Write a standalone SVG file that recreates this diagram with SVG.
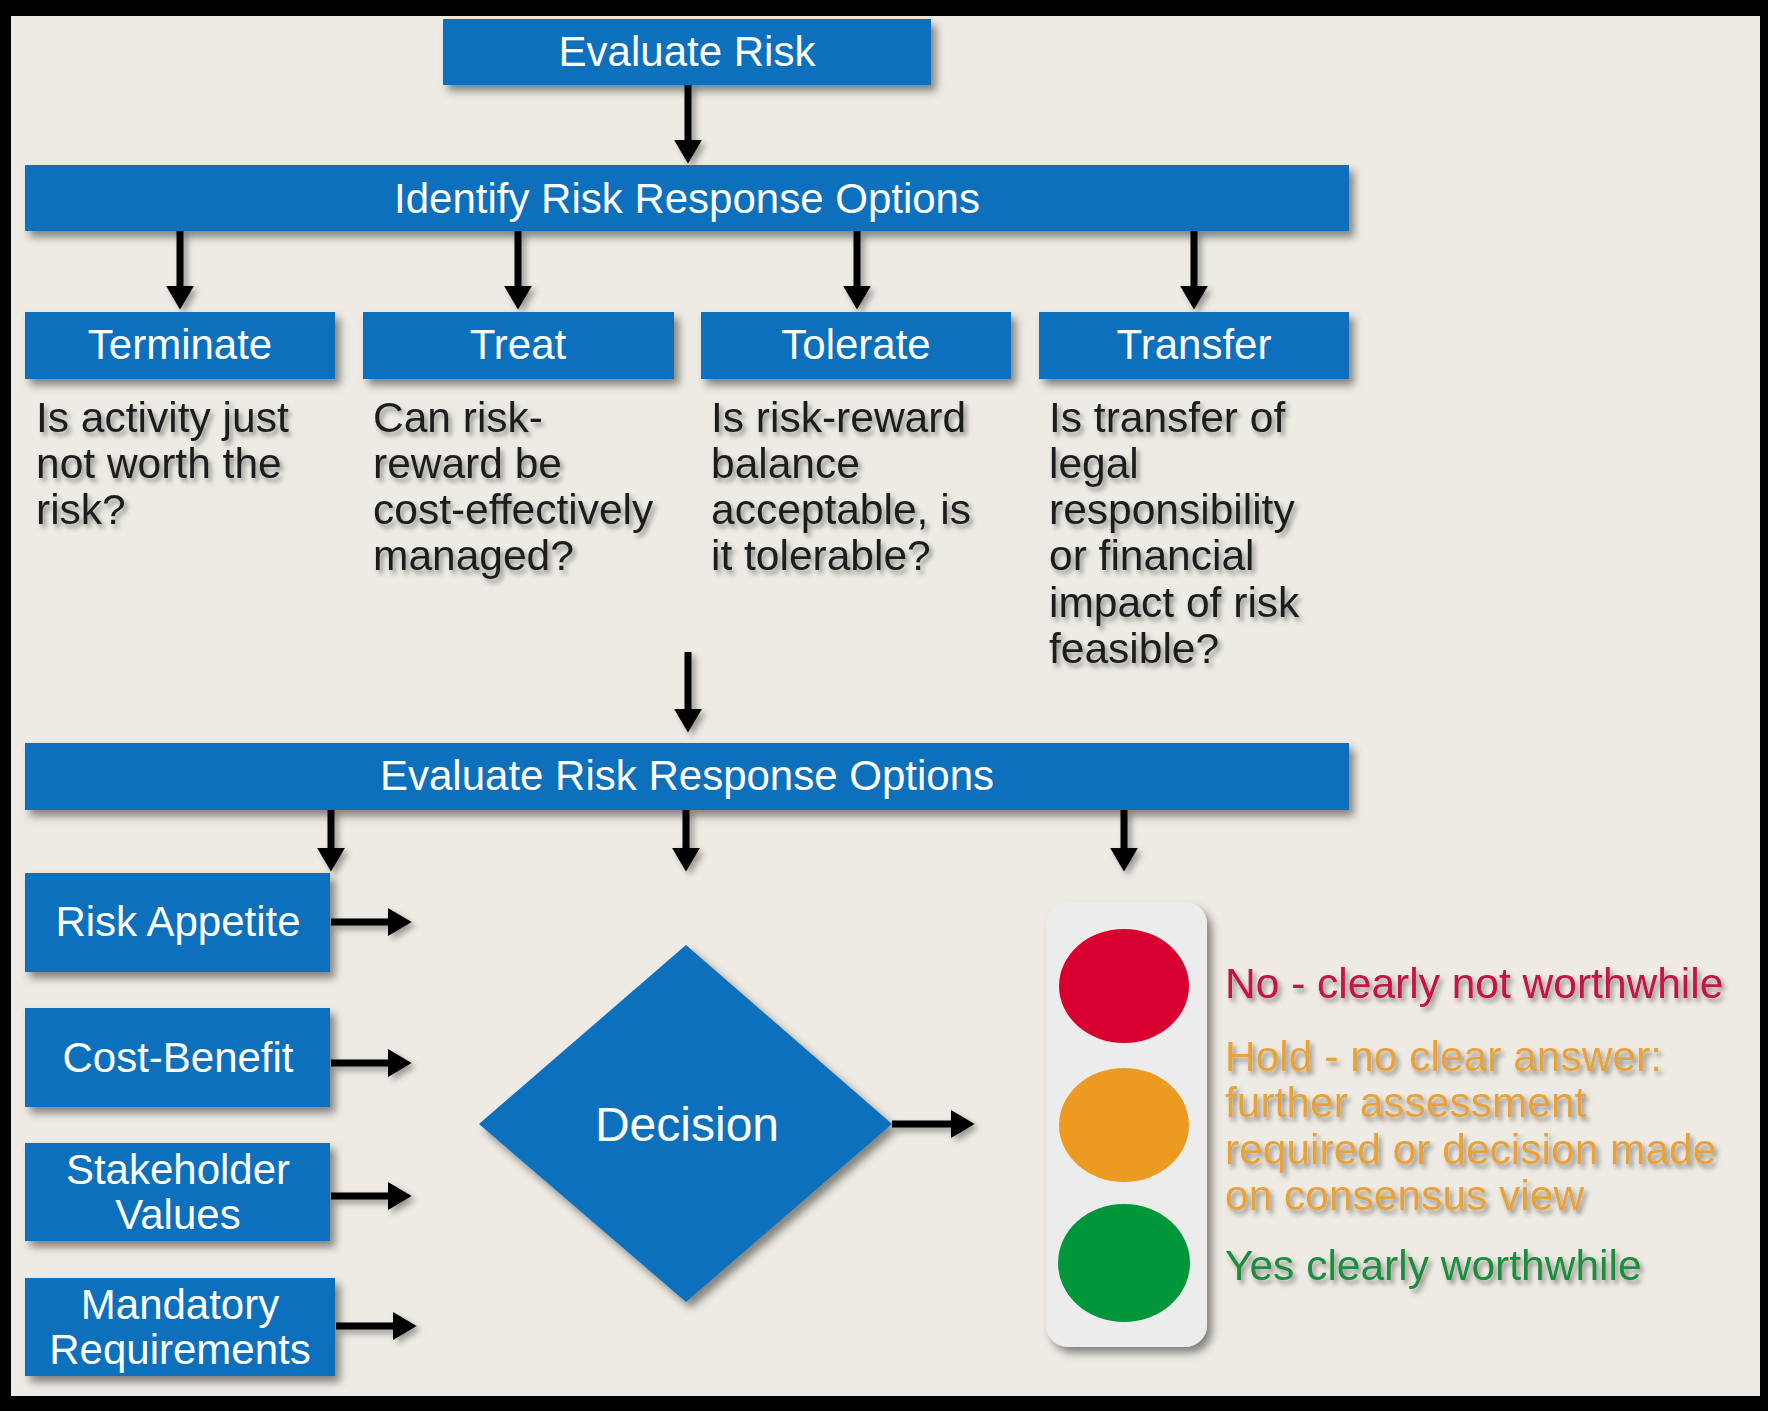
<svg xmlns="http://www.w3.org/2000/svg" width="1768" height="1411" viewBox="0 0 1768 1411">
<defs>
<filter id="sh" x="-10%" y="-10%" width="130%" height="140%"><feDropShadow dx="5" dy="6" stdDeviation="4" flood-color="#000" flood-opacity="0.45"/></filter>
<filter id="tsh" x="-5%" y="-20%" width="115%" height="160%"><feDropShadow dx="3" dy="4" stdDeviation="2.5" flood-color="#000" flood-opacity="0.4"/></filter>
<filter id="ash" x="-50%" y="-20%" width="200%" height="150%"><feDropShadow dx="4" dy="4" stdDeviation="3" flood-color="#000" flood-opacity="0.35"/></filter>
<marker id="ah" viewBox="0 0 10 10" refX="0.5" refY="5" markerWidth="3.4" markerHeight="4" markerUnits="strokeWidth" orient="auto" preserveAspectRatio="none"><path d="M0,0 L10,5 L0,10 z" fill="#000"/></marker>
<style>
.box{fill:#0b6fbc;filter:url(#sh);}
.lbl{font-family:"Liberation Sans",Arial,sans-serif;font-size:42px;fill:#fff;text-anchor:middle;}
.desc{font-family:"Liberation Sans",Arial,sans-serif;font-size:42.5px;fill:#1e1e1e;filter:url(#tsh);}
.con line{stroke:#000;stroke-width:7;marker-end:url(#ah);}
</style>
</defs>
<rect x="0" y="0" width="1768" height="1411" fill="#000"/>
<rect x="11" y="16" width="1749" height="1380" fill="#eeebe4"/>

<g class="con" filter="url(#ash)">
<line x1="688" y1="85" x2="688" y2="141"/>
<line x1="180" y1="231" x2="180" y2="287"/>
<line x1="518" y1="231" x2="518" y2="287"/>
<line x1="857" y1="231" x2="857" y2="287"/>
<line x1="1194" y1="231" x2="1194" y2="287"/>
<line x1="688" y1="652" x2="688" y2="710"/>
<line x1="331" y1="810" x2="331" y2="849"/>
<line x1="686" y1="810" x2="686" y2="849"/>
<line x1="1124" y1="810" x2="1124" y2="849"/>
<line x1="331" y1="922" x2="389" y2="922"/>
<line x1="331" y1="1063" x2="389" y2="1063"/>
<line x1="331" y1="1196" x2="389" y2="1196"/>
<line x1="336" y1="1326" x2="394" y2="1326"/>
<line x1="892" y1="1124" x2="952" y2="1124"/>
</g>

<g id="evaluate-risk"><rect class="box" x="443" y="19" width="488" height="66"/><text class="lbl" x="687" y="66">Evaluate Risk</text></g>
<g id="identify"><rect class="box" x="25" y="165" width="1324" height="66"/><text class="lbl" x="687" y="213">Identify Risk Response Options</text></g>

<g id="terminate"><rect class="box" x="25" y="312" width="310" height="67"/><text class="lbl" x="180" y="359">Terminate</text>
<text class="desc" x="36" y="432">Is activity just</text><text class="desc" x="36" y="478">not worth the</text><text class="desc" x="36" y="524">risk?</text></g>
<g id="treat"><rect class="box" x="363" y="312" width="311" height="67"/><text class="lbl" x="518" y="359">Treat</text>
<text class="desc" x="373" y="432">Can risk-</text><text class="desc" x="373" y="478">reward be</text><text class="desc" x="373" y="524">cost-effectively</text><text class="desc" x="373" y="570">managed?</text></g>
<g id="tolerate"><rect class="box" x="701" y="312" width="310" height="67"/><text class="lbl" x="856" y="359">Tolerate</text>
<text class="desc" x="711" y="432">Is risk-reward</text><text class="desc" x="711" y="478">balance</text><text class="desc" x="711" y="524">acceptable, is</text><text class="desc" x="711" y="570">it tolerable?</text></g>
<g id="transfer"><rect class="box" x="1039" y="312" width="310" height="67"/><text class="lbl" x="1194" y="359">Transfer</text>
<text class="desc" x="1049" y="432">Is transfer of</text><text class="desc" x="1049" y="478">legal</text><text class="desc" x="1049" y="524">responsibility</text><text class="desc" x="1049" y="570">or financial</text><text class="desc" x="1049" y="617">impact of risk</text><text class="desc" x="1049" y="663">feasible?</text></g>

<g id="evaluate-options"><rect class="box" x="25" y="743" width="1324" height="67"/><text class="lbl" x="687" y="790">Evaluate Risk Response Options</text></g>

<g id="risk-appetite"><rect class="box" x="25" y="873" width="305" height="99"/><text class="lbl" x="178" y="936">Risk Appetite</text></g>
<g id="cost-benefit"><rect class="box" x="25" y="1008" width="305" height="99"/><text class="lbl" x="178" y="1072">Cost-Benefit</text></g>
<g id="stakeholder"><rect class="box" x="25" y="1143" width="305" height="98"/><text class="lbl" x="178" y="1184">Stakeholder</text><text class="lbl" x="178" y="1229">Values</text></g>
<g id="mandatory"><rect class="box" x="25" y="1278" width="310" height="98"/><text class="lbl" x="180" y="1319">Mandatory</text><text class="lbl" x="180" y="1364">Requirements</text></g>

<g id="decision"><polygon class="box" points="686,945 892,1124 686,1302 479,1124"/><text class="lbl" x="687" y="1141" style="font-size:48px">Decision</text></g>

<g id="traffic-light">
<rect x="1046" y="902" width="161" height="445" rx="22" fill="#ececec" filter="url(#sh)"/>
<ellipse cx="1124" cy="986" rx="65" ry="57" fill="#d7002e"/>
<ellipse cx="1124" cy="1125" rx="65" ry="57" fill="#ed9a22"/>
<ellipse cx="1124" cy="1263" rx="66" ry="59" fill="#009639"/>
</g>
<g id="outcomes" style="font-family:'Liberation Sans',Arial,sans-serif;font-size:42.5px;filter:url(#tsh)">
<text x="1225" y="998" fill="#c3123f">No - clearly not worthwhile</text>
<text x="1225" y="1071" fill="#e8a13a">Hold - no clear answer:</text>
<text x="1225" y="1117" fill="#e8a13a">further assessment</text>
<text x="1225" y="1164" fill="#e8a13a">required or decision made</text>
<text x="1225" y="1210" fill="#e8a13a">on consensus view</text>
<text x="1225" y="1280" fill="#1e8c3e">Yes clearly worthwhile</text>
</g>
</svg>
